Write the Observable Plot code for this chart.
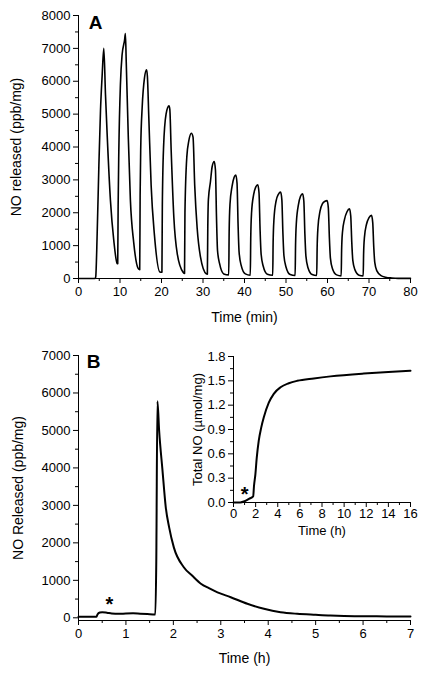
<!DOCTYPE html>
<html>
<head>
<meta charset="utf-8">
<script src="https://cdn.jsdelivr.net/npm/d3@7"></script>
<script src="https://cdn.jsdelivr.net/npm/@observablehq/plot@0.6"></script>
<style>
  html, body { margin: 0; padding: 0; background: #fff; }
  #wrap { position: relative; width: 427px; height: 675px; overflow: hidden; font-family: "Liberation Sans", Arial, sans-serif; }
  #wrap > div, #wrap > svg { position: absolute; left: 0; }
</style>
</head>
<body>
<div id="wrap"></div>
<script>
// ---------- Panel A: NO released vs time (min) ----------
const xTicksA = [0, 10, 20, 30, 40, 50, 60, 70, 80];
const xMinorA = [5, 15, 25, 35, 45, 55, 65, 75];
const yTicksA = [0, 1000, 2000, 3000, 4000, 5000, 6000, 7000, 8000];
const yMinorA = [500, 1500, 2500, 3500, 4500, 5500, 6500, 7500];
const seriesA = [
  [0,0],[4.0,0],[4.15,50],[4.5,1360],[4.9,3390],[5.3,5110],[5.7,6180],[6.1,7000],[6.5,5600],[6.9,4400],[7.7,2370],[8.5,1160],[9.3,460],[9.45,450],
  [9.55,2200],[9.72,3900],[10.1,5900],[10.5,6800],[11.1,7250],[11.3,7450],[11.5,6600],[12.0,4300],[12.5,2400],[13.3,1100],[14.4,300],[14.75,270],
  [14.85,2500],[15.0,4000],[15.34,5200],[15.9,6100],[16.4,6350],[16.6,6150],[16.95,4870],[17.5,2840],[18.3,1320],[19.6,200],[20.1,190],
  [20.2,2200],[20.5,4000],[21.1,5000],[21.8,5250],[22.0,5150],[22.33,3900],[22.97,1870],[23.8,750],[25.2,190],[25.55,150],
  [25.65,2000],[26.1,3700],[26.6,4200],[27.2,4420],[27.6,4300],[28.0,2840],[28.6,1520],[29.4,650],[30.8,140],[31.05,130],
  [31.15,1500],[31.3,2400],[31.8,2950],[32.2,3400],[32.7,3560],[33.0,3300],[33.25,1870],[33.5,850],[34.0,450],[35.0,140],[36.2,110],
  [36.3,1400],[36.5,2250],[37.0,2800],[37.5,3080],[37.9,3150],[38.2,2900],[38.45,1650],[38.7,800],[39.2,400],[40.2,140],[41.4,100],
  [41.5,1200],[41.7,2000],[42.2,2550],[42.7,2780],[43.2,2850],[43.5,2600],[43.75,1500],[44.0,750],[44.5,380],[45.5,130],[46.8,100],
  [46.9,1100],[47.1,1800],[47.6,2350],[48.2,2570],[48.7,2630],[49.0,2400],[49.25,1400],[49.5,700],[50.0,350],[51.0,120],[52.2,90],
  [52.3,1000],[52.5,1700],[53.0,2250],[53.5,2500],[54.0,2580],[54.3,2350],[54.55,1350],[54.8,680],[55.3,330],[56.3,120],[57.4,90],
  [57.5,900],[57.7,1550],[58.2,2050],[58.8,2280],[59.4,2350],[59.9,2370],[60.2,2150],[60.45,1250],[60.7,620],[61.2,300],[62.2,110],[63.3,80],
  [63.4,850],[63.6,1400],[64.1,1800],[64.7,2030],[65.3,2120],[65.6,1900],[65.85,1100],[66.1,550],[66.6,270],[67.6,100],[68.6,80],
  [68.7,750],[68.9,1250],[69.4,1650],[70.0,1850],[70.6,1920],[70.9,1700],[71.15,950],[71.4,480],[71.9,230],[72.9,90],[74.0,40],[75.5,15],[77,5],[80,5]
];

// ---------- Panel B: NO released vs time (h) ----------
const xTicksB = [0, 1, 2, 3, 4, 5, 6, 7];
const xMinorB = [0.5, 1.5, 2.5, 3.5, 4.5, 5.5, 6.5];
const yTicksB = [0, 1000, 2000, 3000, 4000, 5000, 6000, 7000];
const yMinorB = [500, 1500, 2500, 3500, 4500, 5500, 6500];
const seriesB = [
  [0,30],[0.38,30],[0.40,90],[0.45,140],[0.5,150],[0.6,135],[0.7,115],[0.85,105],[1.0,115],[1.15,120],[1.3,110],[1.45,100],[1.62,90],
  [1.64,1500],[1.664,5780],[1.70,5000],[1.77,3950],[1.84,2950],[1.91,2420],[2.01,1880],[2.22,1350],[2.4,1120],[2.58,910],[2.75,790],[2.93,680],
  [3.21,550],[3.56,374],[3.91,240],[4.26,150],[4.61,107],[5.0,80],[5.31,61],[5.6,50],[6.02,43],[6.5,38],[7.0,35]
];
const starB = [[0.65, 360]];

// ---------- Inset: cumulative total NO ----------
const xTicksI = [0, 2, 4, 6, 8, 10, 12, 14, 16];
const xMinorI = [1, 3, 5, 7, 9, 11, 13, 15];
const yTicksI = [0, 0.3, 0.6, 0.9, 1.2, 1.5, 1.8];
const yMinorI = [0.15, 0.45, 0.75, 1.05, 1.35, 1.65];
const seriesI = [
  [0,0],[0.6,0],[1.0,0.015],[1.4,0.045],[1.78,0.075],[1.85,0.2],[1.98,0.35],[2.1,0.55],[2.28,0.76],[2.5,0.92],[2.74,1.05],
  [3.19,1.23],[3.64,1.34],[4.25,1.42],[5.0,1.47],[5.76,1.50],[7.26,1.53],[8.77,1.555],[11.78,1.59],[14,1.61],[16,1.625]
];
const starI = [[1.0, 0.1]];

const FONT = '"Liberation Sans", Arial, sans-serif';
const baseStyle = {fontFamily: FONT, fontSize: "13px", color: "black", background: "transparent", overflow: "visible"};

function axes(xT, xM, yT, yM, xFmt, yFmt, fs, xPad) {
  return [
    Plot.axisX({ticks: xT, tickSize: 5, tickPadding: xPad, label: null, fontSize: fs, tickFormat: xFmt}),
    Plot.axisX({ticks: xM, tickSize: 3, tickFormat: () => "", label: null}),
    Plot.axisY({ticks: yT, tickSize: 5, tickPadding: 3, label: null, fontSize: fs, tickFormat: yFmt}),
    Plot.axisY({ticks: yM, tickSize: 3, tickFormat: () => "", label: null})
  ];
}

const wrap = document.getElementById("wrap");
const fmtInt = d3.format("d");

// Panel A
const yDomA = [0, 8000];
const plotA = Plot.plot({
  width: 427, height: 330,
  marginLeft: 78, marginRight: 17, marginTop: 15, marginBottom: 52,
  style: baseStyle,
  x: {domain: [0, 80]},
  y: {domain: yDomA},
  marks: [
    ...axes(xTicksA, xMinorA, yTicksA, yMinorA, fmtInt, fmtInt, 13, 3),
    Plot.ruleY([yDomA[0]], {strokeWidth: 1}),
    Plot.ruleX([0], {strokeWidth: 1}),
    Plot.line(seriesA, {x: d => d[0], y: d => d[1], curve: "monotone-x", strokeWidth: 1.6}),
    Plot.text(["Time (min)"], {frameAnchor: "bottom", dy: 39, fontSize: 14, textAnchor: "middle", lineAnchor: "middle"}),
    Plot.text(["NO released (ppb/mg)"], {frameAnchor: "left", dx: -62, rotate: -90, fontSize: 14, textAnchor: "middle", lineAnchor: "middle"}),
    Plot.text(["A"], {frameAnchor: "top-left", dx: 17, dy: 7, textAnchor: "middle", lineAnchor: "middle", fontSize: 19, fontWeight: "bold"})
  ]
});
plotA.style.top = "0px";
wrap.appendChild(plotA);

// Panel B
const yDomB = [-72, 7000];
const plotB = Plot.plot({
  width: 427, height: 345,
  marginLeft: 78, marginRight: 17, marginTop: 25, marginBottom: 55,
  style: baseStyle,
  x: {domain: [0, 7]},
  y: {domain: yDomB},
  marks: [
    ...axes(xTicksB, xMinorB, yTicksB, yMinorB, fmtInt, fmtInt, 13, 3),
    Plot.ruleY([yDomB[0]], {strokeWidth: 1}),
    Plot.ruleX([0], {strokeWidth: 1}),
    Plot.line(seriesB, {x: d => d[0], y: d => d[1], curve: "monotone-x", strokeWidth: 2}),
    Plot.text(starB, {x: d => d[0], y: d => d[1], text: () => "*", fontSize: 20, fontWeight: "bold"}),
    Plot.text(["Time (h)"], {frameAnchor: "bottom", dy: 38, fontSize: 14, textAnchor: "middle", lineAnchor: "middle"}),
    Plot.text(["NO Released (ppb/mg)"], {frameAnchor: "left", dx: -60, rotate: -90, fontSize: 14, textAnchor: "middle", lineAnchor: "middle"}),
    Plot.text(["B"], {frameAnchor: "top-left", dx: 15, dy: 6, textAnchor: "middle", lineAnchor: "middle", fontSize: 19, fontWeight: "bold"})
  ]
});
plotB.style.top = "330px";
wrap.appendChild(plotB);

// Inset
const yDomI = [0, 1.8];
const plotI = Plot.plot({
  width: 427, height: 200,
  marginLeft: 233, marginRight: 17, marginTop: 16, marginBottom: 38,
  style: baseStyle,
  x: {domain: [0, 16]},
  y: {domain: yDomI},
  marks: [
    ...axes(xTicksI, xMinorI, yTicksI, yMinorI, fmtInt, d3.format(".1f"), 13, 1),
    Plot.ruleY([yDomI[0]], {strokeWidth: 1}),
    Plot.ruleX([0], {strokeWidth: 1}),
    Plot.line(seriesI, {x: d => d[0], y: d => d[1], curve: "monotone-x", strokeWidth: 2}),
    Plot.text(starI, {x: d => d[0], y: d => d[1], text: () => "*", fontSize: 20, fontWeight: "bold"}),
    Plot.text(["Time (h)"], {frameAnchor: "bottom", dy: 28, fontSize: 13, textAnchor: "middle", lineAnchor: "middle"}),
    Plot.text(["Total NO (\u00b5mol/mg)"], {frameAnchor: "left", dx: -36, rotate: -90, fontSize: 13, textAnchor: "middle", lineAnchor: "middle"})
  ]
});
plotI.style.top = "340px";
wrap.appendChild(plotI);
</script>
</body>
</html>
